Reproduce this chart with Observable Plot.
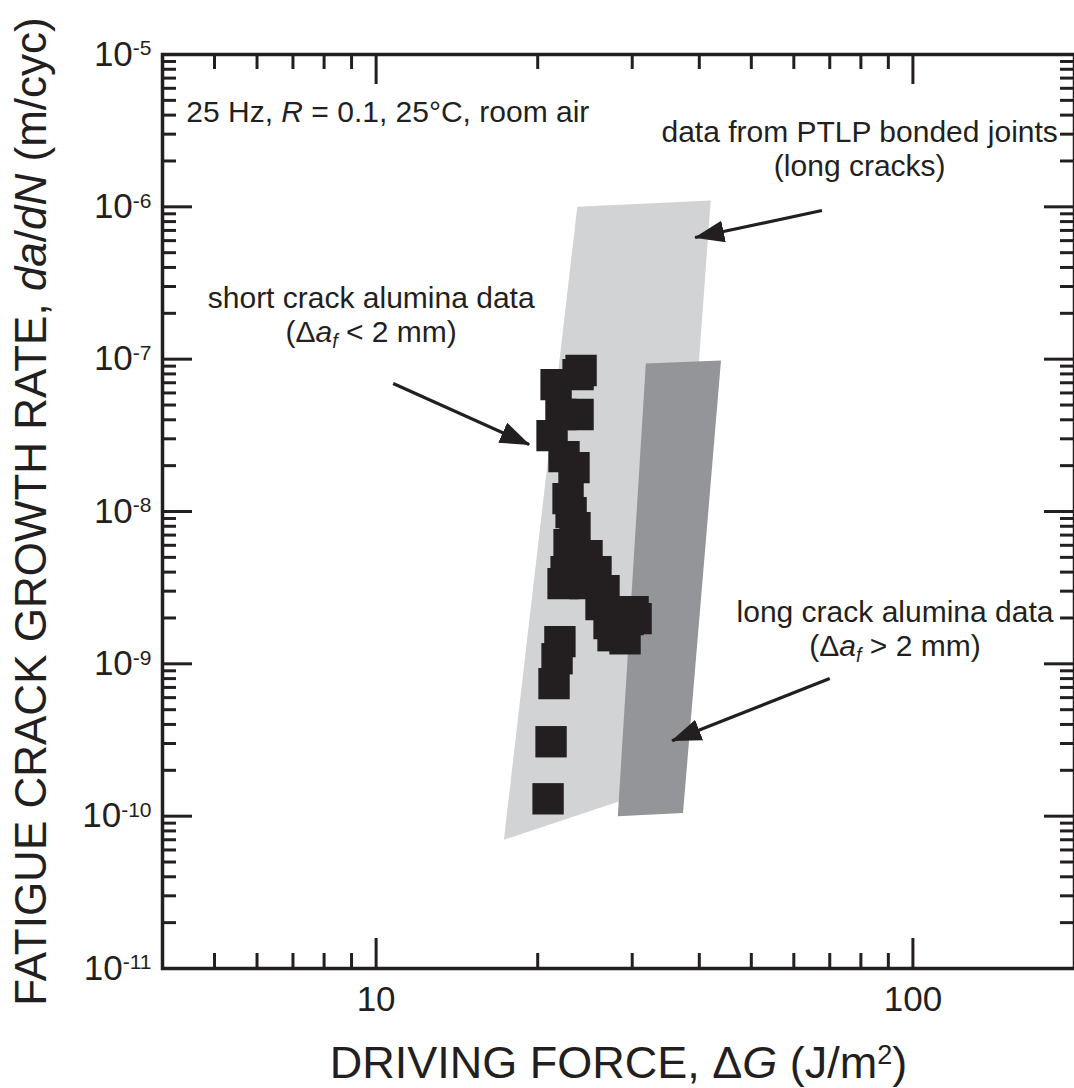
<!DOCTYPE html>
<html><head><meta charset="utf-8">
<script src="https://cdn.jsdelivr.net/npm/d3@7"></script>
<script src="https://cdn.jsdelivr.net/npm/@observablehq/plot@0.6"></script>
<style>
html,body{margin:0;padding:0;background:#fff;}
svg{display:block;}
</style></head><body><div id="chart"></div>
<script>
const INK = "#231f20";
const LIGHT = "#d1d3d4";
const DARK = "#939598";

// short crack alumina data: ΔG (J/m²) and da/dN (m/cyc)
const shortDG   = [24.09, 23.78, 21.64, 22.1, 23.78, 21.27, 22.39, 23.37, 22.78, 23.08, 23.47, 22.88, 24.71, 22.59, 22.3, 25.68, 24.5, 26.58, 26.24, 30.11, 30.5, 27.16, 27.63, 29.09, 29.47, 22.0, 21.73, 21.45, 21.18, 20.91];
const shortRate = [8.42e-8, 7.92e-8, 6.81e-8, 4.33e-8, 4.33e-8, 3.15e-8, 2.29e-8, 1.94e-8, 1.215e-8, 9.83e-9, 7.84e-9, 6.06e-9, 5.13e-9, 4.03e-9, 3.36e-9, 4.03e-9, 3.36e-9, 3.02e-9, 2.45e-9, 2.2e-9, 1.98e-9, 1.84e-9, 1.53e-9, 1.46e-9, 1.95e-9, 1.4e-9, 1.08e-9, 7.41e-10, 3.08e-10, 1.3e-10];

// band: data from PTLP bonded joints (long cracks)
const ptlpDG   = [23.7, 42.0, 35.0, 17.3];
const ptlpRate = [1.0e-6, 1.1e-6, 1.6e-10, 7.0e-11];

// band: long crack alumina data
const longDG   = [31.8, 43.9, 37.3, 28.2];
const longRate = [9.35e-8, 9.8e-8, 1.05e-10, 1.0e-10];

// arrows (tail -> tip)
const arrowDG1   = [10.76, 67.7, 70.0];
const arrowRate1 = [6.92e-8, 9.46e-7, 8.0e-10];
const arrowDG2   = [19.28, 39.3, 35.6];
const arrowRate2 = [2.75e-8, 6.29e-7, 3.13e-10];

// annotation labels
const noteText   = ["25 Hz, <i>R</i> = 0.1, 25°C, room air", "data from PTLP bonded joints", "(long cracks)", "short crack alumina data", "(Δ<i>a</i><sub>f</sub> < 2 mm)", "long crack alumina data", "(Δ<i>a</i><sub>f</sub> > 2 mm)"];
const noteDG     = [4.43, 186.2, 79.6, 9.79, 9.79, 92.6, 92.6];
const noteRate   = [3.63e-6, 2.68e-6, 1.605e-6, 2.18e-7, 1.305e-7, 1.89e-9, 1.13e-9];
const noteAnchor = ["start", "end", "middle", "middle", "middle", "middle", "middle"];

// axes
const xMajor = [10, 100];
const xMinor = [5, 6, 7, 8, 9, 20, 30, 40, 50, 60, 70, 80, 90];
const yExp = [-11, -10, -9, -8, -7, -6, -5];
const yMinorMult = [2, 3, 4, 5, 6, 7, 8, 9];
const xTitle = "DRIVING FORCE, Δ<i>G</i> (J/m<sup>2</sup>)";
const yTitle = "FATIGUE CRACK GROWTH RATE, <i>da</i>/<i>dN</i> (m/cyc)";

const W = 1074, H = 1088;
const mL = 162, mT = 54, mR = 0, mB = 120;
const FW = W - mL - mR, FH = H - mT - mB;

const squares = shortDG.map((g, i) => ({g, r: shortRate[i]}));
const ptlp = ptlpDG.map((g, i) => ({g, r: ptlpRate[i]}));
const longBand = longDG.map((g, i) => ({g, r: longRate[i]}));
const arrows = arrowDG1.map((g, i) => ({g1: g, r1: arrowRate1[i], g2: arrowDG2[i], r2: arrowRate2[i]}));
const notes = noteText.map((t, i) => ({t, g: noteDG[i], r: noteRate[i], a: noteAnchor[i]}));
const yMajor = yExp.map(e => Math.pow(10, e));
const yMinor = [];
for (const e of yExp.slice(0, -1)) for (const m of yMinorMult) yMinor.push(m * Math.pow(10, e));

const noteMarks = ["start", "middle", "end"].map(a =>
  Plot.text(notes.filter(d => d.a === a), {x: "g", y: "r", text: "t", textAnchor: a, lineAnchor: "bottom", fontSize: 30, fill: INK})
);

const plot = Plot.plot({
  width: W, height: H,
  marginLeft: mL, marginTop: mT, marginRight: mR, marginBottom: mB,
  style: {fontFamily: "'Liberation Sans', Arial, Helvetica, sans-serif", color: INK, background: "white", overflow: "visible"},
  x: {type: "log", domain: [4, 200], axis: null},
  y: {type: "log", domain: [1e-11, 1e-5], axis: null},
  marks: [
    Plot.line(ptlp, {x: "g", y: "r", curve: "linear-closed", fill: LIGHT, stroke: null}),
    Plot.line(longBand, {x: "g", y: "r", curve: "linear-closed", fill: DARK, stroke: null}),
    Plot.dot(squares, {x: "g", y: "r", symbol: "square", r: 17.7, fill: INK, stroke: null}),
    Plot.link(arrows, {x1: "g1", y1: "r1", x2: "g2", y2: "r2", stroke: INK, strokeWidth: 3.2}),
    ...noteMarks,
    // tick marks pointing inward
    Plot.ruleX(xMinor, {x: d => d, insetTop: FH - 15, stroke: INK, strokeWidth: 3}),
    Plot.ruleX(xMajor, {x: d => d, insetTop: FH - 30, stroke: INK, strokeWidth: 3}),
    Plot.ruleX(xMinor, {x: d => d, insetBottom: FH - 15, stroke: INK, strokeWidth: 3}),
    Plot.ruleX(xMajor, {x: d => d, insetBottom: FH - 30, stroke: INK, strokeWidth: 3}),
    Plot.ruleY(yMinor, {y: d => d, insetRight: FW - 14, stroke: INK, strokeWidth: 3}),
    Plot.ruleY(yMajor, {y: d => d, insetRight: FW - 30, stroke: INK, strokeWidth: 3}),
    Plot.ruleY(yMinor, {y: d => d, insetLeft: FW - 14, stroke: INK, strokeWidth: 3}),
    Plot.ruleY(yMajor, {y: d => d, insetLeft: FW - 30, stroke: INK, strokeWidth: 3}),
    Plot.frame({stroke: INK, strokeWidth: 3.5}),
    // tick labels
    Plot.text(xMajor, {x: d => d, text: d => String(d), frameAnchor: "bottom", dy: 42, lineAnchor: "bottom", fontSize: 35, fill: INK}),
    Plot.text(yExp, {y: e => Math.pow(10, e), text: e => `10<sup>${e}</sup>`, frameAnchor: "left", dx: -11, textAnchor: "end", lineAnchor: "middle", fontSize: 35, fill: INK}),
    // axis titles
    Plot.text([xTitle], {text: d => d, frameAnchor: "bottom", dy: 109, textAnchor: "middle", lineAnchor: "bottom", fontSize: 45, fill: INK}),
    Plot.text([yTitle], {text: d => d, frameAnchor: "left", dx: -117, rotate: -90, textAnchor: "middle", lineAnchor: "bottom", fontSize: 44, fill: INK})
  ]
});

document.getElementById("chart").appendChild(plot);

// rich text: italics, superscripts, subscripts
const svgns = "http://www.w3.org/2000/svg";
function richify(el) {
  const s = el.textContent;
  if (!/<(i|sup|sub)>/.test(s)) return;
  const holder = el.closest("[font-size]");
  const fs = parseFloat(el.getAttribute("font-size") || (holder && holder.getAttribute("font-size")) || 30);
  while (el.firstChild) el.removeChild(el.firstChild);
  const re = /<(i|sup|sub)>(.*?)<\/\1>/g;
  let last = 0, m, shift = 0;
  const add = (str, type) => {
    if (!str) return;
    const t = document.createElementNS(svgns, "tspan");
    t.textContent = str;
    let target = 0;
    if (type === "i") t.setAttribute("font-style", "italic");
    if (type === "sup") { t.setAttribute("font-size", fs * 0.6); target = -fs * 0.3; }
    if (type === "sub") { t.setAttribute("font-size", fs * 0.65); t.setAttribute("font-style", "italic"); target = fs * 0.22; }
    if (target !== shift) t.setAttribute("dy", target - shift);
    shift = target;
    el.appendChild(t);
  };
  while ((m = re.exec(s))) { add(s.slice(last, m.index), null); add(m[2], m[1]); last = re.lastIndex; }
  add(s.slice(last), null);
}
plot.querySelectorAll("text").forEach(richify);

// filled arrowheads
const svg = d3.select(plot);
const mk = svg.append("defs").append("marker")
  .attr("id", "ahead").attr("viewBox", "0 -11 30 22")
  .attr("markerWidth", 30).attr("markerHeight", 22)
  .attr("markerUnits", "userSpaceOnUse")
  .attr("refX", 29).attr("refY", 0).attr("orient", "auto");
mk.append("path").attr("d", "M0,-11L30,0L0,11Z").attr("fill", INK);
svg.selectAll('g[aria-label="link"] path').attr("marker-end", "url(#ahead)");
</script></body></html>
